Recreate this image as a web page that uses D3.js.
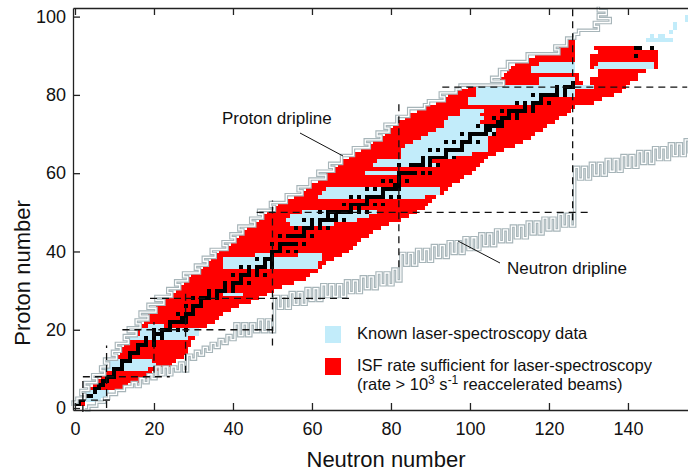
<!DOCTYPE html>
<html>
<head>
<meta charset="utf-8">
<script src="https://cdnjs.cloudflare.com/ajax/libs/d3/7.8.5/d3.min.js"></script>
<style>
  body { margin: 0; background: #fff; }
  svg { display: block; font-family: "Liberation Sans", Arial, sans-serif; }
</style>
</head>
<body>
<svg id="chart" width="688" height="472"></svg>
<script>
// proton dripline: first N for each Z, starting at Z = 1
var pDripZ0 = 1;
var pDripN = [0,1,3,2,4,3,6,5,8,7, 9,8,11,10,12,11,14,13,16,14, 17,16,19,17,21,19,23,21,25,24,
  27,26,29,28,32,31,34,33,36,35, 39,38,41,40,43,42,46,45,48,47, 51,50,54,54,58,57,60,60,64,62,
  66,65,68,68,71,71,75,74,78,77, 80,79,82,82,85,85,89,90,94,93, 97,98,109,106,108,108,110,110,115,115,
  123,122,125,125,127,128,133,132,136,133, 135,133];

// neutron dripline: lowest Z for each N, starting at N = 3
var nDripN0 = 3;
var nDripZ = [0,1,1,2,2,3,4,4,5,5, 6,6,7,6,8,7,9,8,11,9, 11,9,11,10,12,10,14,13,15,14,
  16,15,17,16,18,17,19,18,22,19, 22,19,22,20,23,20,23,20,29,26, 29,26,30,27,30,27,31,28,31,28,
  32,29,32,29,32,29,33,30,33,30, 34,31,34,31,35,32,35,32,36,33, 40,37,40,37,41,38,41,38,42,39,
  42,39,43,40,43,40,44,41,44,41, 45,42,45,42,46,43,46,43,47,44, 47,44,48,45,48,45,49,46,49,46,
  50,47,50,47,62,59,62,59,63,60, 63,60,64,61,64,61,65,62,65,62, 66,63,66,63,67,64,67,64,68,65,
  68,65,69,66];

// ISF rate sufficient (red): main band, first and last N for Z = 1..94
var redZ0 = 1;
var redLo = [0,2,3,4,4,5,6,7,8,9, 9,10,11,12,12,13,14,15,16,16, 17,18,19,19,21,21,23,23,25,26,
  27,28,29,30,32,33,34,35,36,37, 39,40,41,42,43,44,46,47,48,49, 51,52,54,56,58,59,60,62,64,64,
  66,67,68,70,71,73,75,76,78,79, 80,81,82,84,85,87,89,92,94,95, 97,100,109,108,109,110,111,112,115,117,
  123,123,125,125];
var redHi = [2,4,6,8,12,13,16,18,19,21, 24,25,27,28,28,29,29,30,30,31, 33,35,36,37,39,41,44,46,48,50,
  52,55,58,59,61,62,63,65,67,69, 70,71,72,74,75,77,79,82,84,86, 88,89,90,91,93,94,95,97,98,100,
  101,102,103,104,106,108,111,113,115,116, 118,119,121,122,124,125,126,131,133,136, 138,139,128,127,127,126,126,126,126,126,
  126,126,126,126];
// red island beyond N = 126: [Z, first N, last N]
var redIsland = [[83,131,140],[84,131,142],[85,133,142],[86,133,144],[87,131,147],
  [88,131,147],[89,131,147],[90,131,147],[91,133,147],[92,132,143]];

// known laser-spectroscopy data (light blue): [Z, first N, last N]
var blueRows = [[2,2,6],[3,3,8],[4,3,8],
  [10,7,18],[11,9,20],[12,9,19],
  [18,14,28],[19,17,31],[20,17,31],[21,19,22],
  [29,38,42],
  [36,38,61],[37,38,61],[38,38,62],[39,46,50],[39,57,62],
  [47,55,65],[48,54,71],[49,55,74],[50,58,76],
  [54,62,88],[55,63,92],[56,64,92],
  [60,74,83],[62,76,92],[63,77,90],
  [64,83,96],[65,83,100],[66,83,104],[67,84,104],[68,86,104],[69,88,104],[70,90,106],[71,92,106],[72,94,108],
  [73,94,102],[74,95,103],[75,98,102],[76,98,103],
  [78,100,118],[79,100,118],[80,102,126],[81,102,126],[82,102,131],
  [83,118,126],[84,118,126],[86,116,126],[87,116,126],[88,118,126],
  [87,132,146],[88,133,146],
  [94,145,151],[95,146,146],[95,148,149],[96,151,151],[97,152,152],[98,152,152],[99,155,155],[100,155,155]];

// stable nuclei (black): [Z, list of N]
var stable = [[1,[0,1]],[2,[1,2]],[3,[3,4]],[4,[5]],[5,[5,6]],[6,[6,7]],[7,[7,8]],[8,[8,9,10]],
  [9,[10]],[10,[10,11,12]],[11,[12]],[12,[12,13,14]],[13,[14]],[14,[14,15,16]],[15,[16]],
  [16,[16,17,18,20]],[17,[18,20]],[18,[18,20,22]],[19,[20,21,22]],[20,[20,22,23,24,26,28]],
  [21,[24]],[22,[24,25,26,27,28]],[23,[27,28]],[24,[26,28,29,30]],[25,[30]],[26,[28,30,31,32]],
  [27,[32]],[28,[30,32,33,34,36]],[29,[34,36]],[30,[34,36,37,38,40]],[31,[38,40]],
  [32,[38,40,41,42,44]],[33,[42]],[34,[40,42,43,44,46,48]],[35,[44,46]],[36,[42,44,46,47,48,50]],
  [37,[48,50]],[38,[46,48,49,50]],[39,[50]],[40,[50,51,52,54,56]],[41,[52]],
  [42,[50,52,53,54,55,56,58]],[44,[52,54,55,56,57,58,60]],[45,[58]],[46,[56,58,59,60,62,64]],
  [47,[60,62]],[48,[58,60,62,63,64,65,66,68]],[49,[64,66]],[50,[62,64,65,66,67,68,69,70,72,74]],
  [51,[70,72]],[52,[68,70,71,72,73,74,76,78]],[53,[74]],[54,[70,72,74,75,76,77,78,80,82]],
  [55,[78]],[56,[74,76,78,79,80,81,82]],[57,[81,82]],[58,[78,80,82,84]],[59,[82]],
  [60,[82,83,84,85,86,88,90]],[62,[82,85,86,87,88,90,92]],[63,[88,90]],[64,[88,90,91,92,93,94,96]],
  [65,[94]],[66,[90,92,94,95,96,97,98]],[67,[98]],[68,[94,96,98,99,100,102]],[69,[100]],
  [70,[98,100,101,102,103,104,106]],[71,[104,105]],[72,[102,104,105,106,107,108]],[73,[107,108]],
  [74,[106,108,109,110,112]],[75,[110,112]],[76,[108,110,111,112,113,114,116]],[77,[114,116]],
  [78,[112,114,116,117,118,120]],[79,[118]],[80,[116,118,119,120,121,122,124]],[81,[122,124]],
  [82,[122,124,125,126]],[83,[126]],[90,[142]],[92,[142,143,146]]];

// magic numbers: horizontal [Z, N from, N to], vertical [N, Z from, Z to]
var magicZ = [[2,1,10],[8,2,24],[20,12,50],[28,19,70],[50,46,130],[82,93,155]];
var magicN = [[2,-1,8],[8,0,16],[20,9,22],[28,9,30],[50,16,53],[82,36,78],[126,48,103]];

var xTicks = [0,20,40,60,80,100,120,140];
var yTicks = [0,20,40,60,80,100];

var COL_RED = "#ff0000", COL_BLUE = "#c2ecfa", COL_DRIP = "#a7b5b9";

var svg = d3.select("#chart");
var x = d3.scaleLinear().domain([-0.5, 155.2]).range([73, 688]);
var y = d3.scaleLinear().domain([-0.5, 102.2]).range([410, 8]);

function rowRect(g, z, n1, n2, fill) {
  g.append("rect")
    .attr("x", x(n1 - 0.5))
    .attr("y", y(z + 0.5))
    .attr("width", x(n2 + 0.5) - x(n1 - 0.5))
    .attr("height", y(z - 0.5) - y(z + 0.5))
    .attr("fill", fill);
}

var cells = svg.append("g").attr("shape-rendering", "crispEdges");

// red band
redLo.forEach(function(lo, i) {
  rowRect(cells, redZ0 + i, lo, redHi[i], COL_RED);
});
redIsland.forEach(function(r) { rowRect(cells, r[0], r[1], r[2], COL_RED); });

// known laser data
blueRows.forEach(function(r) { rowRect(cells, r[0], r[1], r[2], COL_BLUE); });

// stable
stable.forEach(function(s) {
  s[1].forEach(function(n) { rowRect(cells, s[0], n, n, "#000"); });
});

// driplines as cased staircase lines
var pPts = [];
pDripN.forEach(function(n, i) {
  var z = pDripZ0 + i;
  pPts.push([n - 0.5, z - 0.5]);
  pPts.push([n - 0.5, z + 0.5]);
});
var nPts = [];
nDripZ.forEach(function(z, i) {
  var n = nDripN0 + i;
  nPts.push([n - 0.5, z - 0.5]);
  nPts.push([n + 0.5, z - 0.5]);
});
var line = d3.line().x(function(d) { return x(d[0]); }).y(function(d) { return y(d[1]); });

[pPts, nPts].forEach(function(pts) {
  svg.append("path").attr("d", line(pts)).attr("fill", "none")
    .attr("stroke", COL_DRIP).attr("stroke-width", 3.6).attr("stroke-linejoin", "miter");
  svg.append("path").attr("d", line(pts)).attr("fill", "none")
    .attr("stroke", "#fff").attr("stroke-width", 1.3).attr("stroke-linejoin", "miter");
});

// magic number lines
var dash = svg.append("g").attr("stroke", "#111").attr("stroke-width", 1.3)
  .attr("stroke-dasharray", "7,5").attr("fill", "none");
magicZ.forEach(function(m) {
  dash.append("line").attr("x1", x(m[1])).attr("x2", x(m[2]))
    .attr("y1", y(m[0])).attr("y2", y(m[0]));
});
magicN.forEach(function(m) {
  dash.append("line").attr("x1", x(m[0])).attr("x2", x(m[0]))
    .attr("y1", y(m[1])).attr("y2", y(m[2]));
});

// axes
var xAxis = d3.axisBottom(x).tickValues(xTicks).tickSizeInner(-7).tickSizeOuter(0).tickPadding(12);
var yAxis = d3.axisLeft(y).tickValues(yTicks).tickSizeInner(-7).tickSizeOuter(0).tickPadding(7);
var topAxis = d3.axisTop(x).tickValues(xTicks).tickSizeInner(-7).tickSizeOuter(0).tickFormat("");

var gx = svg.append("g").attr("transform", "translate(0,410)").call(xAxis);
var gy = svg.append("g").attr("transform", "translate(73,0)").call(yAxis);
var gt = svg.append("g").attr("transform", "translate(0,8)").call(topAxis);
[gx, gy, gt].forEach(function(g) {
  g.selectAll("path, line").attr("stroke", "#222").attr("stroke-width", 1.3);
  g.selectAll("text").attr("font-size", 18).attr("fill", "#111")
    .attr("font-family", "'Liberation Sans', Arial, sans-serif");
});

svg.append("text").attr("x", 386).attr("y", 467).attr("text-anchor", "middle")
  .attr("font-size", 22).attr("fill", "#111").text("Neutron number");
svg.append("text").attr("transform", "translate(30,273) rotate(-90)").attr("text-anchor", "middle")
  .attr("font-size", 22).attr("fill", "#111").text("Proton number");

// annotations
svg.append("text").attr("x", 222).attr("y", 124).attr("font-size", 17).attr("fill", "#111").text("Proton dripline");
svg.append("line").attr("x1", 300).attr("y1", 133).attr("x2", 343).attr("y2", 156)
  .attr("stroke", "#111").attr("stroke-width", 1);
svg.append("text").attr("x", 507).attr("y", 274).attr("font-size", 17).attr("fill", "#111").text("Neutron dripline");
svg.append("line").attr("x1", 500).attr("y1", 263).attr("x2", 458).attr("y2", 241)
  .attr("stroke", "#111").attr("stroke-width", 1);

// legend
var leg = svg.append("g");
leg.append("rect").attr("x", 325).attr("y", 326).attr("width", 16).attr("height", 17).attr("fill", COL_BLUE);
leg.append("rect").attr("x", 325).attr("y", 358).attr("width", 16).attr("height", 17).attr("fill", COL_RED);
leg.append("text").attr("x", 357).attr("y", 339).attr("font-size", 16.5).attr("fill", "#111")
  .text("Known laser-spectroscopy data");
leg.append("text").attr("x", 357).attr("y", 371).attr("font-size", 16.5).attr("fill", "#111")
  .text("ISF rate sufficient for laser-spectroscopy");
var t3 = leg.append("text").attr("x", 357).attr("y", 390).attr("font-size", 16.5).attr("fill", "#111");
t3.append("tspan").text("(rate > 10");
t3.append("tspan").attr("dy", -6).attr("font-size", 12).text("3");
t3.append("tspan").attr("dy", 6).text(" s");
t3.append("tspan").attr("dy", -6).attr("font-size", 12).text("-1");
t3.append("tspan").attr("dy", 6).text(" reaccelerated beams)");
</script>
</body>
</html>
